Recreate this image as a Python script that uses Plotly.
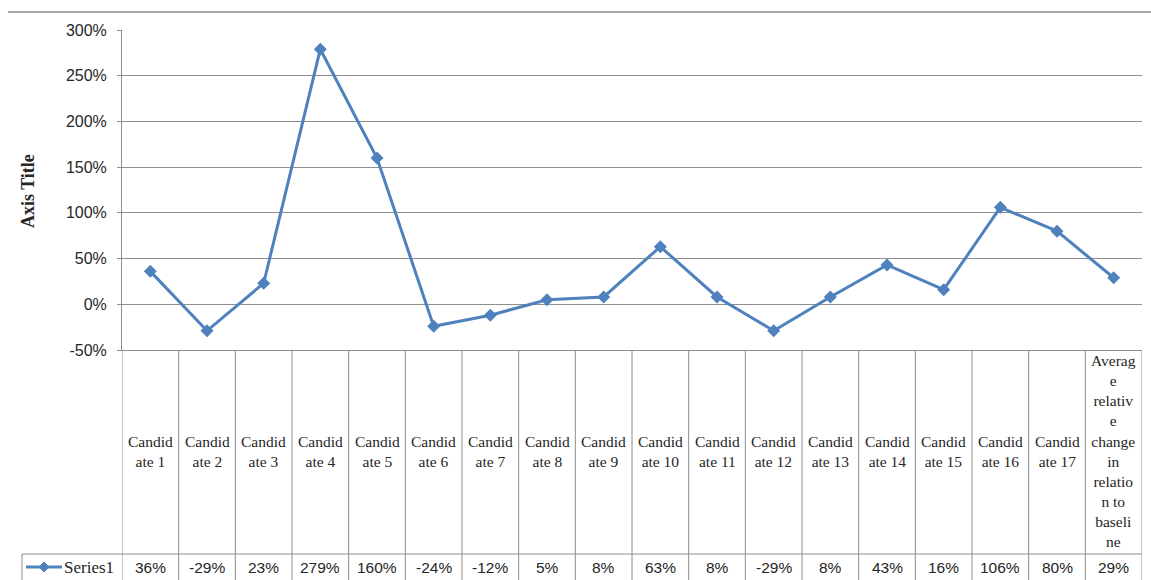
import plotly.graph_objects as go

categories = [
    "Candid<br>ate 1", "Candid<br>ate 2", "Candid<br>ate 3", "Candid<br>ate 4",
    "Candid<br>ate 5", "Candid<br>ate 6", "Candid<br>ate 7", "Candid<br>ate 8",
    "Candid<br>ate 9", "Candid<br>ate 10", "Candid<br>ate 11", "Candid<br>ate 12",
    "Candid<br>ate 13", "Candid<br>ate 14", "Candid<br>ate 15", "Candid<br>ate 16",
    "Candid<br>ate 17",
    "Averag<br>e<br>relativ<br>e<br>change<br>in<br>relatio<br>n to<br>baseli<br>ne",
]
values_pct = [36, -29, 23, 279, 160, -24, -12, 5, 8, 63, 8, -29, 8, 43, 16, 106, 80, 29]
series_name = "Series1"
y_tick_vals = [-0.5, 0, 0.5, 1.0, 1.5, 2.0, 2.5, 3.0]
y_tick_text = ["-50%", "0%", "50%", "100%", "150%", "200%", "250%", "300%"]

values = [v / 100 for v in values_pct]
xpos = list(range(len(categories)))

W, H = 1151, 580
L, R, T, B = 122, 9, 30, 230
PW, PH = W - L - R, H - T - B

def px_x(p):
    return (p - L) / PW

def px_y(p):
    return (H - B - p) / PH

BLUE = "#4F81BD"
GRID = "#8E8E8E"
TXT = "#262626"
SANS = "Liberation Sans"
SERIF = "Liberation Serif"

fig = go.Figure()
fig.add_trace(go.Scatter(
    x=xpos, y=values, mode="lines+markers", name=series_name,
    line=dict(color=BLUE, width=3),
    marker=dict(symbol="diamond", size=10, color=BLUE),
    cliponaxis=False,
))

shapes = []
# table vertical lines
for i in range(len(categories) + 1):
    shapes.append(dict(type="line", xref="x", yref="paper",
                       x0=i - 0.5, x1=i - 0.5, y0=0, y1=px_y(590),
                       line=dict(color=GRID, width=1)))
# row separator
shapes.append(dict(type="line", xref="paper", yref="paper",
                   x0=px_x(22), x1=1, y0=px_y(554), y1=px_y(554),
                   line=dict(color=GRID, width=1)))
# Series cell left border
shapes.append(dict(type="line", xref="paper", yref="paper",
                   x0=px_x(22), x1=px_x(22), y0=px_y(554), y1=px_y(590),
                   line=dict(color=GRID, width=1)))
# chart top border
shapes.append(dict(type="line", xref="paper", yref="paper",
                   x0=px_x(8), x1=px_x(1151), y0=px_y(12), y1=px_y(12),
                   line=dict(color=GRID, width=1.5)))
# legend key in table
shapes.append(dict(type="line", xref="paper", yref="paper",
                   x0=px_x(26), x1=px_x(62), y0=px_y(567), y1=px_y(567),
                   line=dict(color=BLUE, width=3)))
cx, cy, hw = px_x(44), px_y(567), 5
dx, dy = hw / PW, hw / PH
shapes.append(dict(type="path", xref="paper", yref="paper",
                   path=f"M {cx-dx} {cy} L {cx} {cy+dy} L {cx+dx} {cy} L {cx} {cy-dy} Z",
                   fillcolor=BLUE, line=dict(color=BLUE, width=1)))

annotations = []
for i, c in enumerate(categories):
    annotations.append(dict(x=i, y=px_y(451), xref="x", yref="paper",
                            text=c, showarrow=False, xanchor="center", yanchor="middle",
                            align="center",
                            font=dict(family=SERIF, size=15.5, color=TXT)))
for i, v in enumerate(values_pct):
    annotations.append(dict(x=i, y=px_y(567), xref="x", yref="paper",
                            text=f"{v}%", showarrow=False, xanchor="center", yanchor="middle",
                            font=dict(family=SANS, size=15.5, color=TXT)))
annotations.append(dict(x=px_x(62), y=px_y(567), xref="paper", yref="paper",
                        text=series_name, showarrow=False, xanchor="left", yanchor="middle",
                        font=dict(family=SERIF, size=17, color=TXT)))
annotations.append(dict(x=px_x(28), y=px_y(191), xref="paper", yref="paper",
                        text="<b>Axis Title</b>", showarrow=False, textangle=-90,
                        xanchor="center", yanchor="middle",
                        font=dict(family=SERIF, size=18, color=TXT)))

fig.update_layout(
    width=W, height=H,
    margin=dict(l=L, r=R, t=T, b=B, pad=0),
    paper_bgcolor="white", plot_bgcolor="white",
    showlegend=False,
    xaxis=dict(range=[-0.5, len(categories) - 0.5], showgrid=False, showticklabels=False,
               zeroline=False, showline=True, linecolor=GRID, linewidth=1,
               ticks="", fixedrange=True),
    yaxis=dict(range=[-0.5, 3.0], tickvals=y_tick_vals, ticktext=y_tick_text,
               showgrid=True, gridcolor=GRID, gridwidth=1, zeroline=False,
               showline=True, linecolor=GRID, linewidth=1,
               ticks="outside", ticklen=4, tickcolor=GRID,
               ticklabelstandoff=7,
               tickfont=dict(family=SANS, size=16, color=TXT)),
    shapes=shapes, annotations=annotations,
)

fig.write_html("out.html")
